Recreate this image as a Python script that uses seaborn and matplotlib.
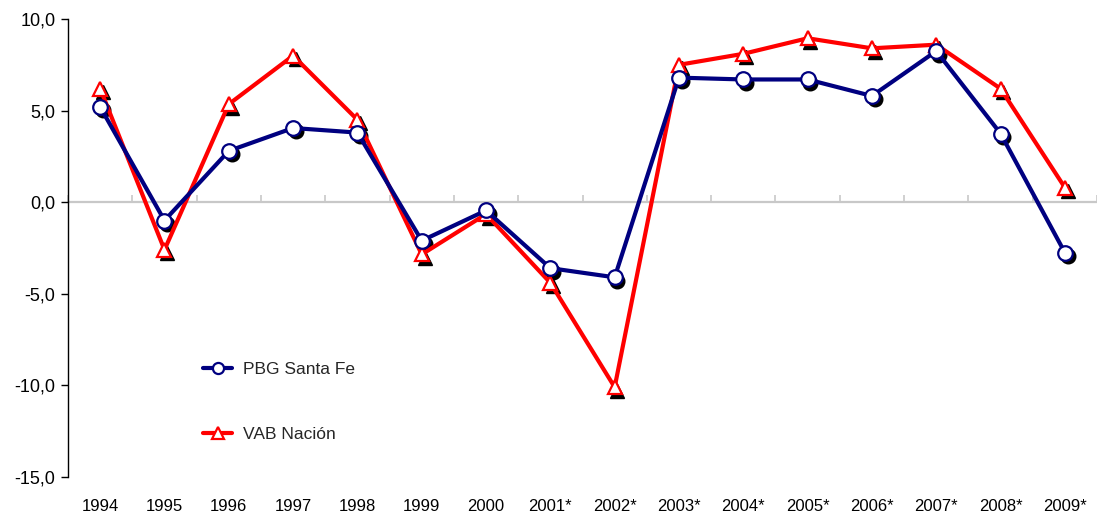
import numpy as np
import pandas as pd
import matplotlib
matplotlib.use("Agg")
import matplotlib.pyplot as plt
import matplotlib.transforms as mtransforms
import seaborn as sns

years = ["1994", "1995", "1996", "1997", "1998", "1999", "2000", "2001*",
         "2002*", "2003*", "2004*", "2005*", "2006*", "2007*", "2008*", "2009*"]
pbg_santa_fe = [5.2, -1.0, 2.8, 4.05, 3.8, -2.1, -0.45, -3.6,
                -4.1, 6.8, 6.7, 6.7, 5.8, 8.25, 3.75, -2.75]
vab_nacion = [6.2, -2.6, 5.35, 8.0, 4.5, -2.85, -0.65, -4.4,
              -10.1, 7.5, 8.1, 8.95, 8.4, 8.6, 6.2, 0.8]
y_ticks = [-15, -10, -5, 0, 5, 10]

sns.set_theme(style="white")
plt.rcParams['font.family'] = ['Liberation Sans', 'DejaVu Sans']

df = pd.DataFrame({"x": np.arange(len(years)), "pbg": pbg_santa_fe, "vab": vab_nacion})

fig = plt.figure(figsize=(10.97, 5.14), dpi=100)
ax = fig.add_axes([0.062, 0.072, 0.938, 0.891])

navy = "#000080"
red = "#ff0000"
grey = "#c8c8c8"

# zero line
ax.axhline(0, color=grey, linewidth=1.6, zorder=1)

# shadows
shadow = mtransforms.offset_copy(ax.transData, fig=fig, x=2.0, y=-2.5, units='points')
ax.plot(df["x"], df["vab"], linestyle='none', marker='^', markersize=10.5,
        color='black', transform=shadow, zorder=2)
ax.plot(df["x"], df["pbg"], linestyle='none', marker='o', markersize=10.5,
        color='black', transform=shadow, zorder=2)

sns.lineplot(data=df, x="x", y="pbg", ax=ax, color=navy, linewidth=3.0,
             marker='o', markersize=10.5, markerfacecolor='white',
             markeredgecolor=navy, markeredgewidth=1.6, label="PBG Santa Fe", zorder=4)
sns.lineplot(data=df, x="x", y="vab", ax=ax, color=red, linewidth=3.0,
             marker='^', markersize=10.5, markerfacecolor='white',
             markeredgecolor=red, markeredgewidth=1.6, label="VAB Nación", zorder=3)

ax.set_xlim(-0.5, len(years) - 0.5)
ax.set_ylim(-15, 10)
ax.set_yticks(y_ticks)
ax.set_yticklabels([f"{v:.1f}".replace(".", ",") for v in y_ticks], fontsize=13)
ax.set_xticks(np.arange(len(years)))
ax.set_xticklabels(years, fontsize=12)
ax.set_xlabel("")
ax.set_ylabel("")

for s in ["top", "right", "bottom"]:
    ax.spines[s].set_visible(False)
ax.spines["left"].set_color("black")
ax.spines["left"].set_linewidth(1.0)
ax.tick_params(axis='y', which='major', left=True, length=5, width=1,
               color='black', direction='out', pad=4, labelcolor='black')
ax.tick_params(axis='x', which='major', bottom=False, length=0, pad=16,
               labelcolor='black')
ax.grid(False)

# category-boundary ticks on the zero line
sec = ax.secondary_xaxis(0.6)
sec.set_xticks(np.arange(len(years) + 1) - 0.5)
sec.set_xticklabels([])
for s in sec.spines.values():
    s.set_visible(False)
sec.tick_params(axis='x', length=5, width=1.2, color=grey, direction='out')

leg = ax.legend(loc='upper left', bbox_to_anchor=(0.131, 0.252), frameon=False,
                fontsize=12.5, handlelength=1.7, labelspacing=2.9,
                handletextpad=0.6, borderpad=0, borderaxespad=0)
for h in leg.legend_handles:
    h.set_markersize(8)

fig.savefig("out.png", dpi=100)
